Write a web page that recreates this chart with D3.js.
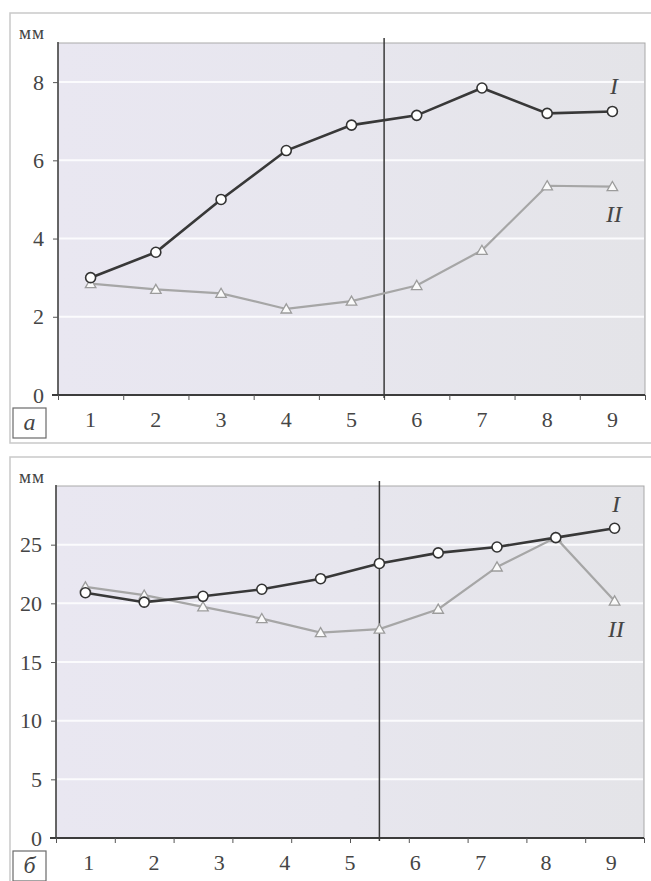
<!DOCTYPE html>
<html>
<head>
<meta charset="utf-8">
<script src="https://cdn.jsdelivr.net/npm/d3@7"></script>
<style>
  body { margin: 0; background: #fff; }
  svg { display: block; }
  text { fill: #454545; }
</style>
</head>
<body>
<div id="chart"></div>
<script>
// panel а: nine periods
var topLabels = ["1", "2", "3", "4", "5", "6", "7", "8", "9"];
var topSeriesI = [3.0, 3.65, 5.0, 6.25, 6.9, 7.15, 7.85, 7.2, 7.25];
var topSeriesII = [2.85, 2.7, 2.6, 2.2, 2.4, 2.8, 3.7, 5.35, 5.33];
var topYTicks = [0, 2, 4, 6, 8];

// panel б: ten measurements, labelled 1..9 underneath
var bottomLabels = ["1", "2", "3", "4", "5", "6", "7", "8", "9"];
var bottomPoints = [1, 2, 3, 4, 5, 6, 7, 8, 9, 10];
var bottomSeriesI = [20.9, 20.1, 20.6, 21.2, 22.1, 23.4, 24.3, 24.8, 25.6, 26.4];
var bottomSeriesII = [21.4, 20.7, 19.7, 18.7, 17.5, 17.8, 19.5, 23.1, 25.6, 20.2];
var bottomYTicks = [0, 5, 10, 15, 20, 25];

var W = 651, H = 881;
var serif = "Liberation Serif";
var svg = d3.select("#chart").append("svg").attr("width", W).attr("height", H)
    .attr("font-family", serif);

var defs = svg.append("defs");
var grad = defs.append("linearGradient").attr("id", "bg").attr("x1", "0").attr("x2", "1");
grad.append("stop").attr("offset", "0").attr("stop-color", "#e9e7f1");
grad.append("stop").attr("offset", "0.5").attr("stop-color", "#e7e6ee");
grad.append("stop").attr("offset", "1").attr("stop-color", "#e4e4e8");

var triangle = d3.symbol().type(d3.symbolTriangle).size(48);

function drawPanel(p) {
    var g = svg.append("g");
    //outer frame
    g.append("rect")
        .attr("x", 10).attr("y", p.frameTop)
        .attr("width", 650).attr("height", p.frameHeight)
        .attr("fill", "none").attr("stroke", "#c9c9c9").attr("stroke-width", 1.5);

    var x0 = p.left, x1 = p.right, y0 = p.bottom, y1 = p.top;
    var y = d3.scaleLinear().domain([0, p.yMax]).range([y0, y1]);

    //plot background
    g.append("rect")
        .attr("x", x0).attr("y", y1)
        .attr("width", x1 - x0).attr("height", y0 - y1)
        .attr("fill", "url(#bg)").attr("stroke", "#a9a9a9").attr("stroke-width", 1);

    //white grid
    g.selectAll(".grid").data(p.yTicks.filter(function (d) { return d > 0; }))
        .enter().append("line")
        .attr("x1", x0 + 1).attr("x2", x1 - 1)
        .attr("y1", function (d) { return y(d); })
        .attr("y2", function (d) { return y(d); })
        .attr("stroke", "#fbfbfd").attr("stroke-width", 2);

    //y axis
    var yAxis = g.append("g").attr("transform", "translate(" + x0 + ",0)")
        .call(d3.axisLeft(y).tickValues(p.yTicks).tickSize(5).tickPadding(9));
    yAxis.attr("font-family", serif).attr("font-size", 22);
    yAxis.select(".domain").attr("stroke", "#4a4a4a").attr("stroke-width", 1.6)
        .attr("d", "M0," + y0 + "V" + (y1 - 1));
    yAxis.selectAll(".tick line").attr("stroke", "#555");
    yAxis.selectAll(".tick text").attr("fill", "#505050");

    //x axis: ticks on the band edges
    var edge = d3.scaleLinear().domain([0, p.nEdges]).range([x0, x1]);
    var xAxis = g.append("g").attr("transform", "translate(0," + y0 + ")")
        .call(d3.axisBottom(edge).tickValues(d3.range(0, p.nEdges + 1)).tickFormat("").tickSize(5));
    xAxis.select(".domain").attr("stroke", "#3c3c3c").attr("stroke-width", 1.8)
        .attr("d", "M" + (x0 - 6) + ",0H" + x1);
    xAxis.selectAll(".tick line").attr("stroke", "#555");

    var xLab = d3.scaleBand().domain(p.labels).range([x0, x1]);
    g.selectAll(".xl").data(p.labels).enter().append("text")
        .attr("x", function (d) { return xLab(d) + xLab.bandwidth() / 2; })
        .attr("y", y0 + 32)
        .attr("text-anchor", "middle")
        .attr("font-family", serif)
        .attr("font-size", 22)
        .text(function (d) { return d; });

    //divider
    g.append("line")
        .attr("x1", p.divider).attr("x2", p.divider)
        .attr("y1", y1 - 5).attr("y2", y0 + 3)
        .attr("stroke", "#3a3a3a").attr("stroke-width", 1.5);

    //series
    var xp = d3.scaleBand().domain(p.points).range([x0, x1]);
    var px = function (d, i) { return xp(p.points[i]) + xp.bandwidth() / 2; };
    var line = d3.line().x(px).y(function (d) { return y(d); });

    g.append("path").datum(p.seriesII).attr("d", line)
        .attr("fill", "none").attr("stroke", "#a6a6a6").attr("stroke-width", 2.2);
    g.append("path").datum(p.seriesI).attr("d", line)
        .attr("fill", "none").attr("stroke", "#383838").attr("stroke-width", 2.6);

    g.selectAll(".tri").data(p.seriesII).enter().append("path")
        .attr("d", triangle)
        .attr("transform", function (d, i) { return "translate(" + px(d, i) + "," + (y(d) + 1) + ")"; })
        .attr("fill", "#fafafa").attr("stroke", "#9c9c9c").attr("stroke-width", 1.3);
    g.selectAll(".dot").data(p.seriesI).enter().append("circle")
        .attr("cx", px).attr("cy", function (d) { return y(d); })
        .attr("r", 5)
        .attr("fill", "#fff").attr("stroke", "#333").attr("stroke-width", 1.6);

    //series names
    g.append("text").attr("x", p.nameX).attr("y", p.nameIY)
        .attr("text-anchor", "middle").attr("font-size", 24).attr("font-style", "italic")
        .attr("fill", "#333").text("I");
    g.append("text").attr("x", p.nameX).attr("y", p.nameIIY)
        .attr("text-anchor", "middle").attr("font-size", 24).attr("font-style", "italic")
        .attr("fill", "#333").text("II");

    //unit
    g.append("text").attr("x", 19).attr("y", p.unitY)
        .attr("font-size", 19).attr("letter-spacing", 1).attr("fill", "#555").text("мм");

    //panel letter
    g.append("rect").attr("x", 13).attr("y", p.boxY)
        .attr("width", 33).attr("height", 30)
        .attr("fill", "#fff").attr("stroke", "#6a6a6a").attr("stroke-width", 1.2);
    g.append("text").attr("x", 29.5).attr("y", p.boxY + 22)
        .attr("text-anchor", "middle").attr("font-size", 24).attr("font-style", "italic")
        .attr("fill", "#444").text(p.letter);
}

drawPanel({
    frameTop: 13, frameHeight: 430,
    left: 58, right: 645, top: 43, bottom: 395, yMax: 9,
    yTicks: topYTicks, labels: topLabels, points: topLabels, nEdges: 9,
    seriesI: topSeriesI, seriesII: topSeriesII,
    divider: 58 + 5 * (645 - 58) / 9,
    nameX: 614, nameIY: 94, nameIIY: 222, unitY: 39,
    boxY: 408, letter: "а"
});

drawPanel({
    frameTop: 457, frameHeight: 440,
    left: 56, right: 644, top: 486, bottom: 838, yMax: 30,
    yTicks: bottomYTicks, labels: bottomLabels, points: bottomPoints, nEdges: 10,
    seriesI: bottomSeriesI, seriesII: bottomSeriesII,
    divider: 56 + 5.5 * (644 - 56) / 10,
    nameX: 616, nameIY: 512, nameIIY: 637, unitY: 483,
    boxY: 851, letter: "б"
});
</script>
</body>
</html>
